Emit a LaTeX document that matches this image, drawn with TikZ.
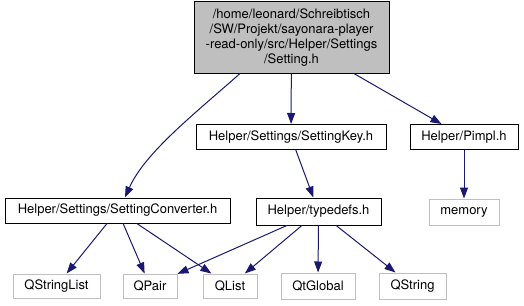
\documentclass[tikz,border=0pt]{standalone}
\usepackage{fontspec}
\setmainfont{TeX Gyre Heros}
\usetikzlibrary{arrows.meta}
\definecolor{incblue}{HTML}{191970}
\definecolor{sysgray}{HTML}{BFBFBF}
\begin{document}
\begin{tikzpicture}[x=1pt,y=-1pt,
  file/.style={draw=black, line width=1pt, fill=white, inner sep=0pt,
    minimum height=25pt, font=\fontsize{13}{15}\selectfont},
  sysfile/.style={file, draw=sysgray},
  inc/.style={draw=incblue, line width=1pt,
    -{Triangle[length=11pt,width=8pt,fill=incblue]}}]
\useasboundingbox (0,0) rectangle (524,305);
% the file itself
\node[file, fill=sysgray, align=center, minimum width=195pt, minimum height=71pt]
  (setting) at (291.5,37.5)
  {/home/leonard/Schreibtisch\\/SW/Projekt/sayonara-player\\-read-only/src/Helper/Settings\\/Setting.h};
% project headers
\node[file, minimum width=190pt] (key) at (291,137) {Helper/Settings/SettingKey.h};
\node[file, minimum width=108pt] (pimpl) at (464,137) {Helper/Pimpl.h};
\node[file, minimum width=225pt] (conv) at (117.5,210.5) {Helper/Settings/SettingConverter.h};
\node[file, minimum width=125pt, minimum height=27pt] (typedefs) at (318.5,211.5) {Helper/typedefs.h};
% system headers
\node[sysfile, minimum width=70pt, minimum height=26pt] (memory) at (464,212) {memory};
\node[sysfile, minimum width=87pt, minimum height=24pt] (qstringlist) at (56.5,286) {QStringList};
\node[sysfile, minimum width=54pt, minimum height=24pt] (qpair) at (150,286) {QPair};
\node[sysfile, minimum width=54pt, minimum height=24pt] (qlist) at (230,286) {QList};
\node[sysfile, minimum width=74pt, minimum height=26pt] (qtglobal) at (318,286) {QtGlobal};
\node[sysfile, minimum width=67pt, minimum height=26pt] (qstring) at (412.5,286) {QString};
% includes
\draw[inc] ([xshift=-51.5pt]setting.south) .. controls +(-45,40) and +(20,-45) .. ([xshift=7.5pt]conv.north);
\draw[inc] (setting) -- (key);
\draw[inc] (setting) -- (pimpl);
\draw[inc] (key) -- (typedefs);
\draw[inc] (pimpl) -- (memory);
\draw[inc] (conv) -- (qstringlist);
\draw[inc] (conv) -- (qpair);
\draw[inc] (conv) -- (qlist);
\draw[inc] (typedefs) -- (qpair);
\draw[inc] (typedefs) -- (qlist);
\draw[inc] (typedefs) -- (qtglobal);
\draw[inc] (typedefs) -- (qstring);
\end{tikzpicture}
\end{document}
